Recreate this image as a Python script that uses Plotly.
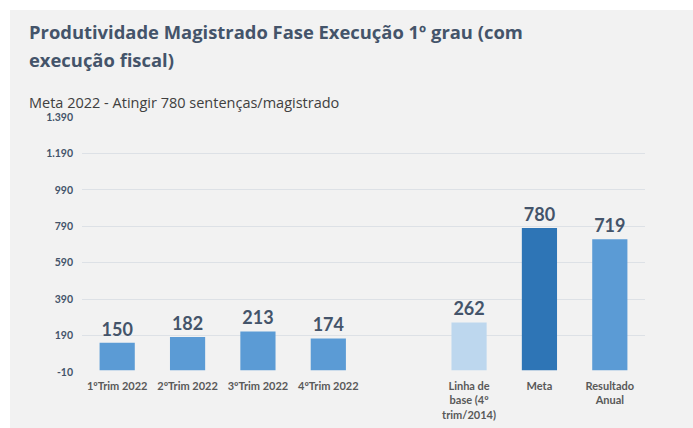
import plotly.graph_objects as go

categories = ["1ºTrim 2022", "2ºTrim 2022", "3ºTrim 2022", "4ºTrim 2022",
              "Linha de<br>base (4º<br>trim/2014)", "Meta", "Resultado<br>Anual"]
positions = [0, 1, 2, 3, 5, 6, 7]
values = [150, 182, 213, 174, 262, 780, 719]
bar_colors = ["#5b9bd5", "#5b9bd5", "#5b9bd5", "#5b9bd5", "#bdd7ee", "#2e75b6", "#5b9bd5"]
y_tickvals = [-10, 190, 390, 590, 790, 990, 1190, 1390]
y_ticktext = ["-10", "190", "390", "590", "790", "990", "1.190", "1.390"]

W, H = 693, 428
L, R, T, B = 82, 48, 117, 56
pw, ph = W - L - R, H - T - B

def px_x(x):
    return (x - L) / pw

def px_y(y):
    return (H - B - y) / ph

fig = go.Figure()
fig.add_trace(go.Bar(
    x=positions, y=values, width=0.5,
    marker=dict(color=bar_colors, line=dict(width=0)),
    text=[str(v) for v in values], textposition="outside",
    textfont=dict(family="Lato", size=18, color="#44546a", weight="bold"),
    cliponaxis=False, hoverinfo="skip",
))

fig.add_shape(type="rect", xref="paper", yref="paper",
              x0=px_x(10), x1=px_x(W + 5), y0=px_y(H + 5), y1=px_y(10),
              fillcolor="#f2f2f2", line=dict(width=0), layer="below")

ann_font = dict(family="Open Sans", size=18.4, color="#44546a", weight="bold")
fig.add_annotation(text="Produtividade Magistrado Fase Execução 1º grau (com",
                   xref="paper", yref="paper", x=px_x(27), y=px_y(31),
                   xanchor="left", yanchor="middle", showarrow=False, font=ann_font)
fig.add_annotation(text="execução fiscal)",
                   xref="paper", yref="paper", x=px_x(27), y=px_y(60),
                   xanchor="left", yanchor="middle", showarrow=False, font=ann_font)
fig.add_annotation(text="Meta 2022 - Atingir 780 sentenças/magistrado",
                   xref="paper", yref="paper", x=px_x(27), y=px_y(102),
                   xanchor="left", yanchor="middle", showarrow=False,
                   font=dict(family="Open Sans", size=14.5, color="#404040"))

fig.update_layout(
    width=W, height=H,
    margin=dict(l=L, r=R, t=T, b=B),
    paper_bgcolor="white", plot_bgcolor="rgba(0,0,0,0)",
    showlegend=False,
    bargap=0.5,
)
fig.update_xaxes(range=[-0.5, 7.5], tickvals=positions, ticktext=categories,
                 showgrid=False, zeroline=False, showline=False, ticks="",
                 ticklabelstandoff=6, automargin=False,
                 tickfont=dict(family="Lato", size=11, color="#595959", weight="bold"),
                 fixedrange=True)
fig.update_yaxes(range=[-10, 1390], tickvals=y_tickvals, ticktext=y_ticktext,
                 showgrid=True, gridcolor="#dde1e6", gridwidth=1, zeroline=False,
                 showline=False, ticks="", ticklabelstandoff=8, automargin=False,
                 tickfont=dict(family="Lato", size=10.5, color="#44546a", weight="bold"),
                 fixedrange=True)

fig.write_html("out.html", config={"displayModeBar": False},
               post_script="document.body.style.margin='0px';")
